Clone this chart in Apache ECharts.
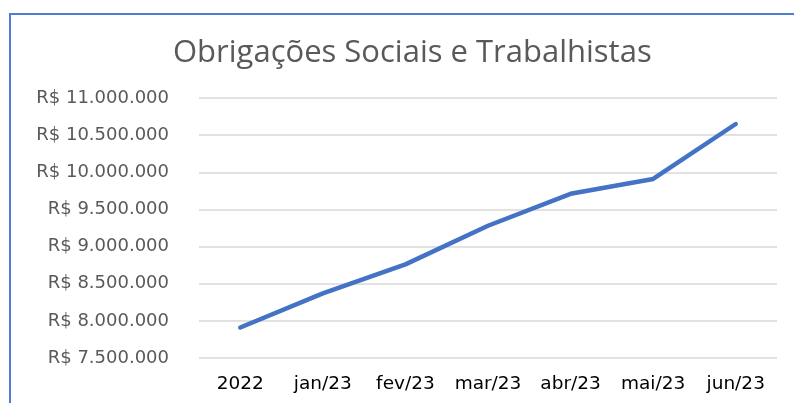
<!DOCTYPE html>
<html><head><meta charset="utf-8">
<script src="https://cdn.jsdelivr.net/npm/echarts@6/dist/echarts.min.js"></script>
<style>html,body{margin:0;padding:0;background:#fff}#c{width:794px;height:403px}</style>
</head><body><div id="c"></div>
<script>
const titleText = "Obrigações Sociais e Trabalhistas";
const categories = ["2022","jan/23","fev/23","mar/23","abr/23","mai/23","jun/23"];
const values = [7910000, 8370000, 8760000, 9280000, 9710000, 9910000, 10650000];
const yMin = 7500000, yMax = 11000000, yStep = 500000;

function fmt(v){
  return "R$ " + String(Math.round(v)).replace(/\B(?=(\d{3})+(?!\d))/g, ".");
}
const chart = echarts.init(document.getElementById('c'));
chart.setOption({
  animation:false,
  backgroundColor:'#fff',
  graphic:[{type:'rect',shape:{x:10,y:14,width:800,height:420},style:{fill:'none',stroke:'#4f7fd3',lineWidth:2},z:-1}],
  title:{text:titleText,left:168,top:33,textStyle:{fontFamily:'Open Sans',fontWeight:'normal',fontSize:31,color:'#595959'}},
  grid:{left:199,right:17,top:98,bottom:45,containLabel:false},
  xAxis:{type:'category',data:categories,boundaryGap:true,
    axisLine:{show:false},axisTick:{show:false},
    axisLabel:{interval:0,margin:17,fontFamily:'DejaVu Sans',fontSize:18.5,color:'#000'}},
  yAxis:{type:'value',min:yMin,max:yMax,interval:yStep,
    axisLine:{show:false},axisTick:{show:false},
    splitLine:{lineStyle:{color:'#d9d9d9',width:1.5}},
    axisLabel:{margin:30,fontFamily:'DejaVu Sans',fontSize:18,color:'#595959',formatter:fmt}},
  series:[{type:'line',data:values,symbol:'none',lineStyle:{color:'#4472c4',width:4.5,cap:'round',join:'round'}}]
});
</script></body></html>
